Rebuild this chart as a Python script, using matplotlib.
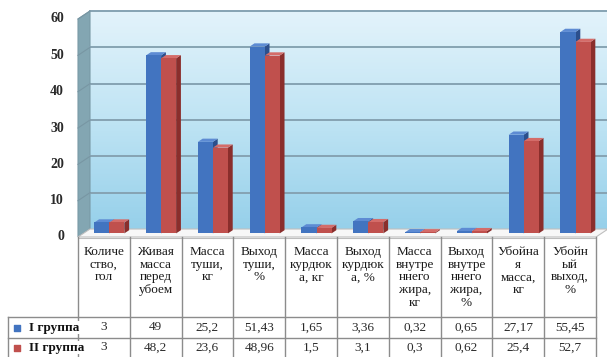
import numpy as np
import matplotlib
matplotlib.use("Agg")
import matplotlib.pyplot as plt
from matplotlib.patches import Polygon, Rectangle
from matplotlib.colors import LinearSegmentedColormap

# -------------------------
# data
# -------------------------
categories = [
    "Количе\nство,\nгол",
    "Живая\nмасса\nперед\nубоем",
    "Масса\nтуши,\nкг",
    "Выход\nтуши,\n%",
    "Масса\nкурдюк\nа, кг",
    "Выход\nкурдюк\nа, %",
    "Масса\nвнутре\nннего\nжира,\nкг",
    "Выход\nвнутре\nннего\nжира,\n%",
    "Убойна\nя\nмасса,\nкг",
    "Убойн\nый\nвыход,\n%",
]
series_names = ["I группа", "II группа"]
group1 = [3, 49, 25.2, 51.43, 1.65, 3.36, 0.32, 0.65, 27.17, 55.45]
group2 = [3, 48.2, 23.6, 48.96, 1.5, 3.1, 0.3, 0.62, 25.4, 52.7]
y_ticks = [0, 10, 20, 30, 40, 50, 60]

plt.rcParams['font.family'] = ['Liberation Serif', 'DejaVu Serif']

W, H = 607, 357
fig = plt.figure(figsize=(W / 100, H / 100), dpi=100)
fig.patch.set_facecolor("white")

# front plane of the 3D box: x 78..596 px, value 0 at 237 px, 60 at 19 px
left_px, right_px, zero_px, top_px = 78, 596, 237, 19
ax = fig.add_axes([left_px / W, (H - zero_px) / H, (right_px - left_px) / W, (zero_px - top_px) / H])
n = len(categories)
ax.set_xlim(-0.5, n - 0.5)
ax.set_ylim(0, 60)
ax.axis("off")

cat_px = (right_px - left_px) / n
val_px = (zero_px - top_px) / 60
ddx = 12 / cat_px      # depth offset in data units
ddy = 8 / val_px

x0w, x1w = -0.5, n - 0.5

# back wall with vertical gradient
wall_cmap = LinearSegmentedColormap.from_list("wall", ["#96d0ea", "#bfe4f4", "#e3f3fb"])
grad = np.linspace(0, 1, 256).reshape(-1, 1)
ax.imshow(grad, extent=(x0w + ddx, x1w + ddx, ddy, 60 + ddy), origin="lower",
          cmap=wall_cmap, aspect="auto", zorder=0, clip_on=False)

# left wall
ax.add_patch(Polygon([(x0w, 0), (x0w + ddx, ddy), (x0w + ddx, 60 + ddy), (x0w, 60)],
                     closed=True, facecolor="#83a6b2", edgecolor="#7a9aa6", lw=0.8,
                     zorder=1, clip_on=False))
# floor
ax.add_patch(Polygon([(x0w, 0), (x1w, 0), (x1w + ddx, ddy), (x0w + ddx, ddy)],
                     closed=True, facecolor="#f7f7f7", edgecolor="#bfbfbf", lw=0.8,
                     zorder=1, clip_on=False))

# gridlines on back wall and left wall
for v in y_ticks[1:]:
    ax.plot([x0w + ddx, x1w + ddx], [v + ddy, v + ddy], color="#86a3b3", lw=1.4,
            zorder=2, clip_on=False)
    ax.plot([x0w, x0w + ddx], [v, v + ddy], color="#7896a3", lw=0.8,
            zorder=2, clip_on=False)

# y tick labels
for v in y_ticks:
    ax.text(x0w - 14 / cat_px, v, str(v), ha="right", va="center",
            fontsize=10, fontweight="bold", color="#2a2a2a", clip_on=False)

# bars
colors = [
    ("#4274c0", "#2c4f8c", "#5d8bd3"),
    ("#c0504d", "#8a2e2c", "#d46c69"),
]
bw = 0.29
ff, fb = 0.45, 0.85
for i in range(n):
    for s, vals in enumerate([group1, group2]):
        v = vals[i]
        front, side, top = colors[s]
        xa = i - bw + s * bw
        xb = xa + bw
        ax.add_patch(Polygon([(xb + ff * ddx, ff * ddy), (xb + fb * ddx, fb * ddy),
                              (xb + fb * ddx, v + fb * ddy), (xb + ff * ddx, v + ff * ddy)],
                             closed=True, facecolor=side, edgecolor="none", zorder=3 + s))
        ax.add_patch(Polygon([(xa + ff * ddx, v + ff * ddy), (xb + ff * ddx, v + ff * ddy),
                              (xb + fb * ddx, v + fb * ddy), (xa + fb * ddx, v + fb * ddy)],
                             closed=True, facecolor=top, edgecolor="none", zorder=3 + s))
        ax.add_patch(Rectangle((xa + ff * ddx, ff * ddy), bw, v, facecolor=front,
                               edgecolor="none", zorder=3 + s))

# -------------------------
# data table
# -------------------------
tax = fig.add_axes([left_px / W, 0, (right_px - left_px) / W, (H - zero_px) / H])
tax.set_xlim(-0.5, n - 0.5)
tax.set_ylim(H - zero_px, 0)
tax.axis("off")


def px2x(px):
    return -0.5 + (px - left_px) / cat_px


line_c = "#8c8c8c"
hdr_bot, row1_bot, row2_bot = 80, 101, 122
tax.plot([x0w, x1w], [0.5, 0.5], color="#bdbdbd", lw=0.8, clip_on=False)
for k in range(n + 1):
    tax.plot([k - 0.5, k - 0.5], [0, row2_bot], color=line_c, lw=1, clip_on=False)
for yb in [hdr_bot, row1_bot]:
    tax.plot([px2x(8), x1w], [yb, yb], color=line_c, lw=1, clip_on=False)
tax.plot([px2x(8), px2x(8)], [hdr_bot, row2_bot], color=line_c, lw=1, clip_on=False)

for i, lab in enumerate(categories):
    tax.text(i, 9, lab, ha="center", va="top", fontsize=9.5, linespacing=1.08,
             color="#1a1a1a", clip_on=False)

row_y = [(hdr_bot + row1_bot) / 2, (row1_bot + row2_bot) / 2 - 1]
for r, vals in enumerate([group1, group2]):
    for i, v in enumerate(vals):
        tax.text(i, row_y[r], f"{v:g}".replace(".", ","), ha="center", va="center",
                 fontsize=9.5, color="#2a2a2a", clip_on=False)
    tax.scatter([px2x(17)], [row_y[r]], marker="s", s=14, color=colors[r][0],
                clip_on=False, zorder=5)
    tax.text(px2x(29), row_y[r], series_names[r], ha="left", va="center",
             fontsize=9.5, fontweight="bold", color="#111111", clip_on=False, zorder=5,
             bbox=dict(facecolor="white", edgecolor="none", pad=0.5))

fig.savefig("out.png", dpi=100)
